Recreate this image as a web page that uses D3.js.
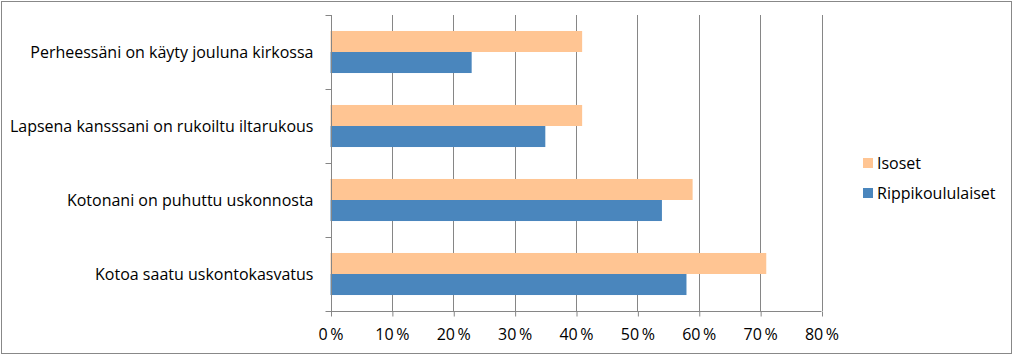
<!DOCTYPE html>
<html><head><meta charset="utf-8">
<script src="https://cdn.jsdelivr.net/npm/d3@7"></script>
<style>
html,body{margin:0;padding:0;background:#fff;}
svg text{font-family:"Open Sans","Noto Sans",sans-serif;fill:#000;}
</style></head>
<body><svg id="c" width="1014" height="356"></svg>
<script>
const categories = ["Perheessäni on käyty jouluna kirkossa","Lapsena kansssani on rukoiltu iltarukous","Kotonani on puhuttu uskonnosta","Kotoa saatu uskontokasvatus"];
const seriesNames = ["Isoset","Rippikoululaiset"];
const isoset = [41,41,59,71];
const rippikoululaiset = [23,35,54,58];
const xTicks = [0,10,20,30,40,50,60,70,80];
const colors = ["#FFC593","#4A86BD"];
const FONT = "'Open Sans','Noto Sans',sans-serif";
const FS = 16;

const svg = d3.select("#c");
svg.append("rect").attr("x",1.5).attr("y",1.5).attr("width",1010).attr("height",352)
  .attr("fill","#fff").attr("stroke","#888").attr("stroke-width",1);

const x = d3.scaleLinear().domain([0,80]).range([330.5,821.5]);
const y = d3.scaleBand().domain(categories).range([15,311]).padding(0);
const yi = d3.scaleBand().domain(seriesNames).range([0,y.bandwidth()]).paddingInner(0).paddingOuter(0.76);
const gridColor = "#868686";

svg.append("g").selectAll("line").data(xTicks.slice(1)).join("line")
  .attr("x1",d=>Math.round(x(d))+0.5).attr("x2",d=>Math.round(x(d))+0.5)
  .attr("y1",15).attr("y2",311).attr("stroke",gridColor).attr("stroke-width",1);

const data = categories.map((c,i)=>({c, vals:[isoset[i], rippikoululaiset[i]]}));
const grp = svg.append("g").selectAll("g").data(data).join("g")
  .attr("transform",d=>`translate(0,${y(d.c)})`);
grp.selectAll("rect").data(d=>d.vals.map((v,j)=>({s:seriesNames[j],v,j}))).join("rect")
  .attr("x",x(0)).attr("y",d=>yi(d.s)).attr("width",d=>x(d.v)-x(0)).attr("height",yi.bandwidth())
  .attr("fill",d=>colors[d.j]);

const xAxis = d3.axisBottom(x).tickValues(xTicks).tickFormat(d=>d+"\u2009%").tickSize(5).tickPadding(12);
const gx = svg.append("g").attr("transform","translate(0,311.5)").call(xAxis);
gx.select(".domain").attr("stroke",gridColor).attr("d",`M${x(0)},0H${x(80)}`);
gx.selectAll(".tick line").attr("stroke",gridColor).attr("transform","translate(0.5,0)");
gx.selectAll("text").attr("font-size",FS).attr("font-family",FONT).attr("fill","#000");

const yAxis = d3.axisLeft(y).tickSize(0).tickPadding(18);
const gy = svg.append("g").attr("transform",`translate(${Math.round(x(0))+0.5},0)`).call(yAxis);
gy.select(".domain").attr("stroke",gridColor).attr("d","M0,15V311");
gy.selectAll("text").attr("font-size",FS).attr("font-family",FONT).attr("fill","#000").attr("dy","0.35em");
gy.append("g").selectAll("line").data(d3.range(categories.length+1)).join("line")
  .attr("x1",-6).attr("x2",0)
  .attr("y1",i=>Math.round(15+i*y.step())+0.5).attr("y2",i=>Math.round(15+i*y.step())+0.5)
  .attr("stroke",gridColor);

const lg = svg.append("g").attr("transform","translate(863,0)");
const legY = [163, 193];
seriesNames.forEach((s,j)=>{
  lg.append("rect").attr("x",0).attr("y",legY[j]-5).attr("width",10).attr("height",10).attr("fill",colors[j]);
  lg.append("text").attr("x",14).attr("y",legY[j]).attr("dy","0.35em").attr("font-size",FS).attr("font-family",FONT).text(s);
});
</script></body></html>
